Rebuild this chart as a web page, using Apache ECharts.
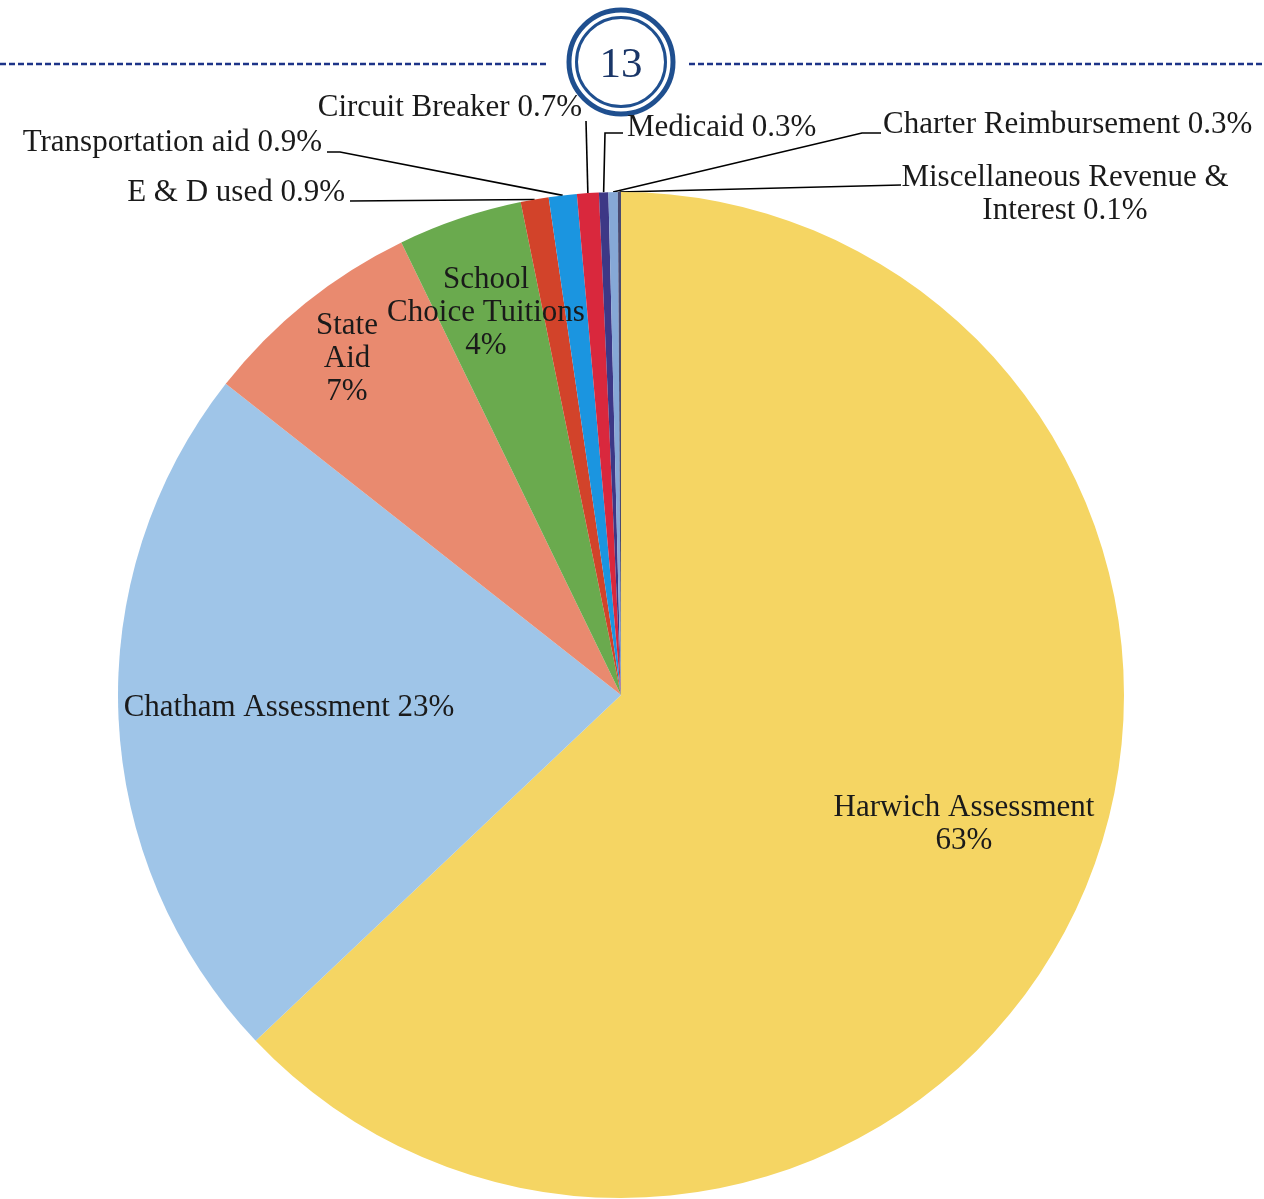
<!DOCTYPE html>
<html>
<head>
<meta charset="utf-8">
<script src="https://cdn.jsdelivr.net/npm/echarts@6/dist/echarts.min.js"></script>
<style>
html,body{margin:0;padding:0;background:#fff;}
#chart{width:1264px;height:1199px;}
</style>
</head>
<body>
<div id="chart"></div>
<script>
// ---- data ----
const categories = ['Harwich Assessment', 'Chatham Assessment', 'State Aid', 'School Choice Tuitions', 'E & D used', 'Transportation aid', 'Circuit Breaker', 'Medicaid', 'Charter Reimbursement', 'Miscellaneous Revenue & Interest'];
const values = [63.0, 22.7, 7.2, 4.0, 0.9, 0.9, 0.7, 0.3, 0.3, 0.1];
const labelTexts = ['Harwich Assessment\n63%', 'Chatham Assessment 23%', 'State\nAid\n7%', 'School\nChoice Tuitions\n4%', 'E & D used 0.9%', 'Transportation aid 0.9%', 'Circuit Breaker 0.7%', 'Medicaid 0.3%', 'Charter Reimbursement 0.3%', 'Miscellaneous Revenue &\nInterest 0.1%'];
const pageNumber = '13';

// ---- styles / layout ----
const colors = ['#f5d563', '#9fc5e8', '#e98a6f', '#6aaa4e', '#d2432a', '#1b95e0', '#d9283d', '#3d3886', '#86a8d6', '#4a4a70'];
const insideCount = 4;
const labelPos = [
  {x: 964, y: 824, align: 'center'},
  {x: 289, y: 708, align: 'center'},
  {x: 347, y: 359, align: 'center'},
  {x: 486, y: 313, align: 'center'},
  {x: 345, y: 193, align: 'right'},
  {x: 322, y: 143, align: 'right'},
  {x: 582, y: 108, align: 'right'},
  {x: 627, y: 128, align: 'left'},
  {x: 883, y: 125, align: 'left'},
  {x: 1065, y: 194, align: 'center'}
];
const guideElbows = [
  null, null, null, null,
  [[350, 201]],
  [[340, 152], [327, 152]],
  [[586, 121]],
  [[605, 133], [623, 133]],
  [[862, 133], [881, 133]],
  [[901, 185]]
];

const data = values.map((v, i) => ({
  name: categories[i],
  value: v,
  itemStyle: {color: colors[i]},
  label: {
    position: i < insideCount ? 'inside' : 'outside',
    formatter: labelTexts[i]
  },
  labelLine: {show: i >= insideCount}
}));

const chart = echarts.init(document.getElementById('chart'), null, {renderer: 'canvas'});
chart.setOption({
  animation: false,
  backgroundColor: '#ffffff',
  graphic: [
    {type: 'line', shape: {x1: 0, y1: 64, x2: 549, y2: 64}, style: {stroke: '#1d3488', lineWidth: 2.5, lineDash: [6, 3]}},
    {type: 'line', shape: {x1: 689, y1: 64, x2: 1264, y2: 64}, style: {stroke: '#1d3488', lineWidth: 2.5, lineDash: [6, 3]}},
    {type: 'circle', shape: {cx: 621, cy: 62, r: 52}, style: {fill: '#fff', stroke: '#1f4f8f', lineWidth: 5}},
    {type: 'circle', shape: {cx: 621, cy: 62, r: 44.5}, style: {fill: 'none', stroke: '#1f4f8f', lineWidth: 3}},
    {type: 'text', x: 621, y: 66, style: {text: pageNumber, font: '43px "Liberation Serif"', fill: '#1a3668', align: 'center', verticalAlign: 'middle'}}
  ],
  series: [{
    type: 'pie',
    center: [621, 695],
    radius: 503,
    startAngle: 90,
    clockwise: true,
    avoidLabelOverlap: false,
    emphasis: {disabled: true},
    itemStyle: {borderWidth: 0},
    label: {
      fontFamily: 'Liberation Serif',
      fontSize: 31,
      lineHeight: 33,
      color: '#1a1a1a'
    },
    labelLine: {show: true, length: 10, length2: 10, lineStyle: {color: '#000', width: 1.6}},
    labelLayout: function (params) {
      const i = params.dataIndex;
      const p = labelPos[i];
      const out = {x: p.x, y: p.y, align: p.align, verticalAlign: 'middle'};
      if (guideElbows[i] && params.labelLinePoints) {
        const anchor = params.labelLinePoints[0];
        out.labelLinePoints = [anchor].concat(guideElbows[i]);
      }
      return out;
    },
    data: data
  }]
});
</script>
</body>
</html>
